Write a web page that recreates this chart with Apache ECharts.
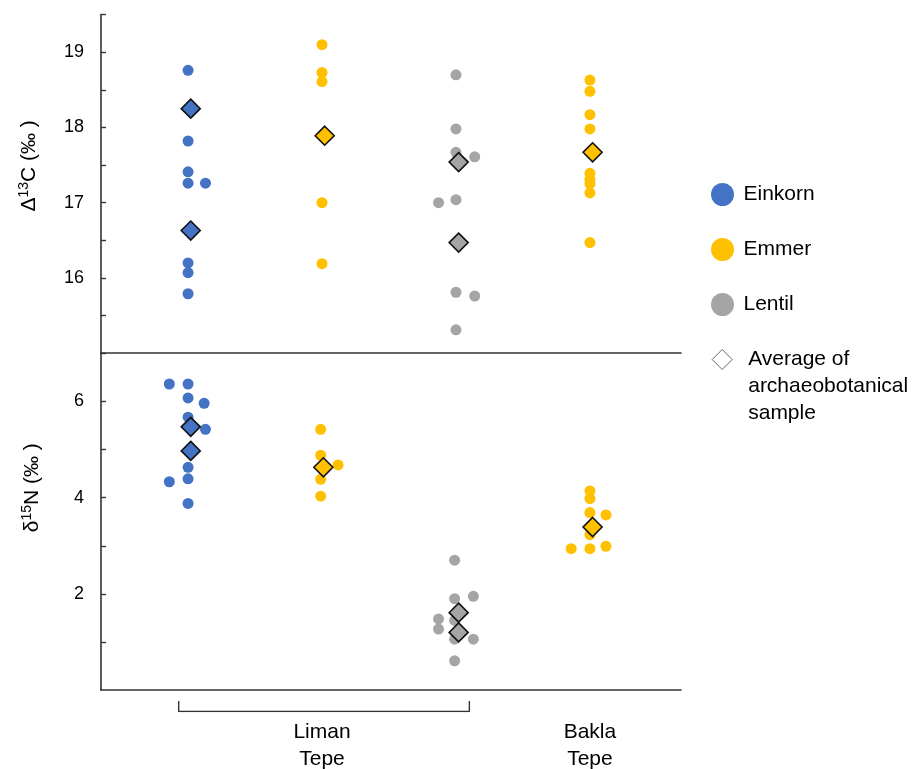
<!DOCTYPE html>
<html>
<head>
<meta charset="utf-8">
<script src="https://cdn.jsdelivr.net/npm/echarts@6/dist/echarts.min.js"></script>
<style>
  html, body { margin: 0; padding: 0; background: #fff; }
  #chart { width: 920px; height: 769px; }
</style>
</head>
<body>
<div id="chart"></div>
<script>
// x = group position (1 Einkorn LT, 2 Emmer LT, 3 Lentil LT, 4 Emmer BT) plus small jitter
const einkornC = [[1, 18.76], [1, 17.82], [1, 17.41], [1, 17.26], [1.13, 17.26], [1, 16.20], [1, 16.07], [1, 15.79]]
const emmerC = [[2, 19.10], [2, 18.73], [2, 18.61], [2, 17.00], [2, 16.19],
  [4, 18.63], [4, 18.48], [4, 18.17], [4, 17.98], [4, 17.39], [4, 17.31], [4, 17.25], [4, 17.13], [4, 16.47]]
const lentilC = [[3, 18.70], [3, 17.98], [3, 17.67], [3.14, 17.61], [3, 17.04], [2.87, 17.00], [3, 15.81], [3.14, 15.76], [3, 15.31]]
const avgEinkornC = [[1.02, 18.25], [1.02, 16.63]]
const avgEmmerC = [[2.02, 17.89], [4.02, 17.67]]
const avgLentilC = [[3.02, 17.54], [3.02, 16.47]]

const einkornN = [[0.86, 6.36], [1, 6.36], [1, 6.07], [1.12, 5.96], [1, 5.67], [1.13, 5.42], [1, 4.63], [1, 4.39], [0.86, 4.33], [1, 3.88]]
const emmerN = [[1.99, 5.42], [1.99, 4.88], [2.12, 4.68], [1.99, 4.38], [1.99, 4.03],
  [4, 4.14], [4, 3.98], [4, 3.69], [4.12, 3.64], [4, 3.23], [3.86, 2.94], [4, 2.94], [4.12, 2.99]]
const lentilN = [[2.99, 2.70], [2.99, 1.90], [3.13, 1.95], [2.87, 1.48], [2.87, 1.27], [2.99, 1.45], [2.99, 1.06], [3.13, 1.06], [2.99, 0.61]]
const avgEinkornN = [[1.02, 5.47], [1.02, 4.97]]
const avgEmmerN = [[2.01, 4.63], [4.02, 3.39]]
const avgLentilN = [[3.02, 1.61], [3.02, 1.20]]

const siteLabels = ['Liman\nTepe', 'Bakla\nTepe']
const sitePos = [2, 4]
const bracketX = [0.93, 3.1]

const FONT = '"Liberation Sans", Arial, sans-serif'
const COLORS = { Einkorn: '#4472C4', Emmer: '#FFC000', Lentil: '#A5A5A5' }
const AVG = 'Average of archaeobotanical sample'
const X_MIN = 0.35, X_MAX = 4.68

const chart = echarts.init(document.getElementById('chart'))

// scatter for crop dots
const dots = (name, data, idx) => ({
  name, type: 'scatter', xAxisIndex: idx, yAxisIndex: idx,
  data, symbol: 'circle', symbolSize: 11,
  itemStyle: { color: COLORS[name], opacity: 1 }, z: 2
})
// diamonds for averages
const avg = (groups, idx) => ({
  name: AVG, type: 'scatter', xAxisIndex: idx, yAxisIndex: idx,
  symbol: 'diamond', symbolSize: 19, z: 5,
  itemStyle: { opacity: 1 },
  data: groups.flatMap(([crop, pts]) => pts.map(p => ({
    value: p,
    itemStyle: { color: COLORS[crop], borderColor: '#111', borderWidth: 1.6, opacity: 1 }
  })))
})

const plainX = idx => ({
  type: 'value', gridIndex: idx, min: X_MIN, max: X_MAX,
  axisLine: { show: true, onZero: false, lineStyle: { color: '#333', width: 1.6 } },
  axisTick: { show: false }, axisLabel: { show: false }, splitLine: { show: false }
})

const yAx = (idx, min, max, interval, fmt, name, pad, gap) => ({
  type: 'value', gridIndex: idx, min, max, interval,
  name, nameLocation: 'middle', nameGap: gap, nameRotate: 90,
  nameTextStyle: {
    padding: [0, 0, 0, pad],
    rich: {
      a: { fontSize: 21, fontFamily: FONT, color: '#000', lineHeight: 24 },
      s: { fontSize: 14, fontFamily: FONT, color: '#000', lineHeight: 14, verticalAlign: 'top' }
    }
  },
  axisLine: { show: true, lineStyle: { color: '#333', width: 1.6 } },
  axisTick: { show: true, inside: true, length: 5, lineStyle: { color: '#333', width: 1.4 } },
  axisLabel: { fontSize: 18, fontFamily: FONT, color: '#000', margin: 17, formatter: fmt, showMinLabel: false },
  splitLine: { show: false }
})

chart.setOption({
  animation: false,
  backgroundColor: '#fff',
  grid: [
    { left: 101, right: 239, top: 14.6, height: 338.6, outerBoundsMode: 'none' },
    { left: 101, right: 239, top: 353.2, height: 337, outerBoundsMode: 'none' },
    { left: 101, right: 239, top: 701, height: 10.5, outerBoundsMode: 'none' }
  ],
  xAxis: [
    plainX(0),
    plainX(1),
    {
      type: 'value', gridIndex: 2, min: X_MIN, max: X_MAX,
      axisLine: { show: false }, axisTick: { show: false }, splitLine: { show: false },
      axisLabel: {
        customValues: sitePos,
        formatter: v => siteLabels[sitePos.indexOf(v)] || '',
        fontSize: 21, fontFamily: FONT, color: '#000', lineHeight: 27, margin: 7
      }
    }
  ],
  yAxis: [
    yAx(0, 15, 19.5, 0.5, v => Number.isInteger(v) ? v : '', '{a|Δ}{s|13}{a|C (‰ )}', 36, 60),
    yAx(1, 0, 7, 1, v => (v % 2 === 0 && v > 0) ? v : '', '{a|δ}{s|15}{a|N (‰ )}', 68, 57),
    { type: 'value', gridIndex: 2, min: 0, max: 1, show: false }
  ],
  legend: [
    {
      orient: 'vertical', left: 706, top: 178, itemWidth: 32, itemHeight: 23, itemGap: 32,
      data: ['Einkorn', 'Emmer', 'Lentil'].map(n => ({ name: n, icon: 'circle' })),
      textStyle: { fontSize: 21, fontFamily: FONT, color: '#000', lineHeight: 23 },
      selectedMode: false
    },
    {
      orient: 'vertical', left: 706.7, top: 287, itemWidth: 20, itemHeight: 20,
      data: [{ name: AVG, icon: 'diamond', itemStyle: { color: '#fff', borderColor: '#666', borderWidth: 1, opacity: 1 } }],
      formatter: () => '\n\n{g|}Average of\n{g|}archaeobotanical\n{g|}sample',
      textStyle: {
        fontSize: 21, fontFamily: FONT, color: '#000', lineHeight: 27,
        rich: { g: { width: 11, lineHeight: 27 } }
      },
      selectedMode: false
    }
  ],
  series: [
    dots('Einkorn', einkornC, 0),
    dots('Emmer', emmerC, 0),
    dots('Lentil', lentilC, 0),
    avg([['Einkorn', avgEinkornC], ['Emmer', avgEmmerC], ['Lentil', avgLentilC]], 0),
    dots('Einkorn', einkornN, 1),
    dots('Emmer', emmerN, 1),
    dots('Lentil', lentilN, 1),
    avg([['Einkorn', avgEinkornN], ['Emmer', avgEmmerN], ['Lentil', avgLentilN]], 1),
    {
      name: 'bracket', type: 'line', xAxisIndex: 2, yAxisIndex: 2,
      data: [[bracketX[0], 1], [bracketX[0], 0], [bracketX[1], 0], [bracketX[1], 1]],
      symbol: 'none', lineStyle: { color: '#333', width: 1.4 }, silent: true
    }
  ]
})
</script>
</body>
</html>
